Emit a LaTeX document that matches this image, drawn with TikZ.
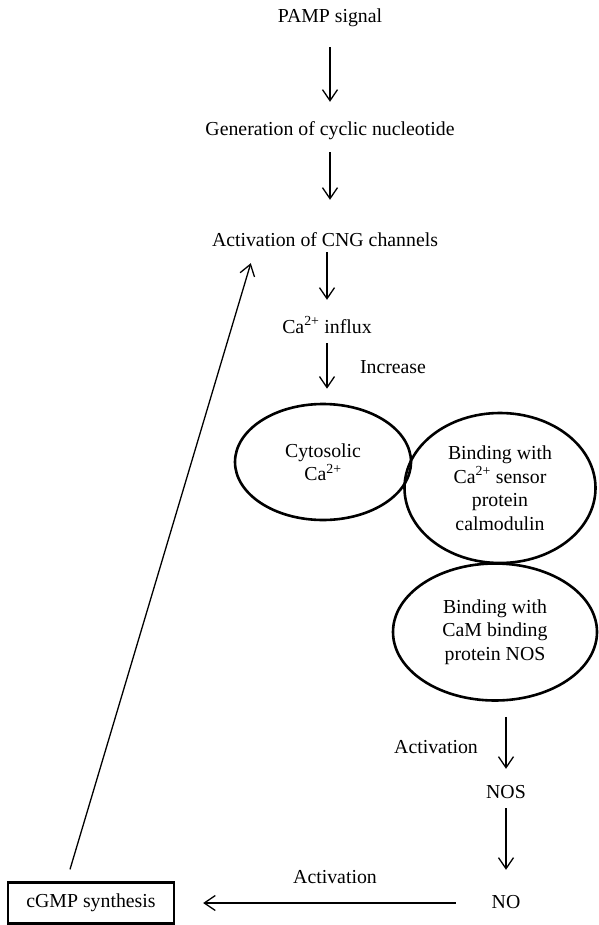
\documentclass[tikz,border=0pt]{standalone}
\usepackage{fontspec}
\setmainfont{Liberation Serif}
\usetikzlibrary{arrows.meta,shapes.geometric,calc}

\tikzset{
  lbl/.style={inner sep=0pt, anchor=base, text height=14pt, text depth=4pt},
  oval/.style={ellipse, draw, line width=2.6pt, inner sep=0pt, align=center},
  flow/.style={line width=1.3pt, -{Straight Barb[length=11pt,width=15pt,line width=1.3pt]}},
  plainbox/.style={rectangle, draw, line width=2.3pt, inner sep=0pt, minimum width=166pt, minimum height=41pt}
}

\begin{document}
\begin{tikzpicture}[x=1pt,y=-1pt,font=\fontsize{19.8}{23.5}\selectfont]
  \useasboundingbox (0,0) rectangle (598,925);

  % main signalling chain
  \node[lbl] (pamp)   at (330,22.5) {PAMP signal};
  \node[lbl] (gen)    at (330,136)  {Generation of cyclic nucleotide};
  \node[lbl] (cng)    at (325,247)  {Activation of CNG channels};
  \node[lbl] (influx) at (327,333)  {Ca\textsuperscript{2+} influx};
  \node[lbl] (incr)   at (393,373)  {Increase};

  % calcium / calmodulin binding steps
  \node[oval, minimum width=176pt, minimum height=116pt] (cyt) at (323,462)
        {Cytosolic\\Ca\textsuperscript{2+}};
  \node[oval, minimum width=191pt, minimum height=150pt] (cam) at (500,488)
        {Binding with\\Ca\textsuperscript{2+} sensor\\protein\\calmodulin};
  \node[oval, minimum width=204pt, minimum height=137pt] (nosb) at (495,632)
        {Binding with\\CaM binding\\protein NOS};

  % NO production and feedback
  \node[lbl] (act1) at (436,753) {Activation};
  \node[lbl] (nos)  at (506,798) {NOS};
  \node[lbl] (no)   at (506,908) {NO};
  \node[lbl] (act2) at (335,883) {Activation};
  \node[plainbox] (cgmp) at (91,903) {cGMP synthesis};

  % connectors
  \draw[flow, shorten <=20.5pt, shorten >=20pt] (pamp.south) -- (pamp.south |- gen.north);
  \draw[flow, shorten <=12pt, shorten >=33pt] (gen.south) -- (gen.south |- cng.north);
  \draw[flow, shorten <=1pt, shorten >=19pt] (influx.north |- cng.south) -- (influx.north);
  \draw[flow, shorten <=6pt, shorten >=14pt] (influx.south) -- (influx.south |- cyt.north);
  \draw[flow, shorten <=15pt, shorten >=15pt] (nos.north |- nosb.south) -- (nos.north);
  \draw[flow, shorten <=6pt, shorten >=24pt] (nos.south) -- (no.north);
  \draw[flow, shorten <=36pt, shorten >=28pt] (no.west) -- (cgmp.east |- no.west);
  \draw[flow] ($(cgmp.north)+(-21,-12)$) -- ($(cng.south west)+(39,12)$);
\end{tikzpicture}
\end{document}
